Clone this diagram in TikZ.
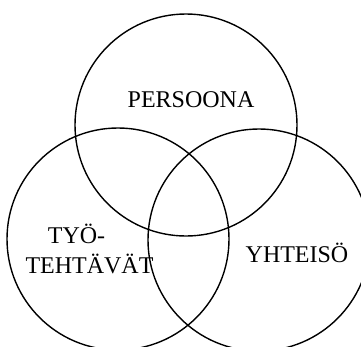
\documentclass[tikz,border=0pt]{standalone}
\usepackage{fontspec}
\setmainfont{Liberation Serif}
\usepackage{tikz}

\begin{document}
\begin{tikzpicture}[
    x=1pt, y=-1pt,
    ring/.style={circle, draw=black, line width=1.4pt, minimum size=222pt, inner sep=0pt},
    lbl/.style={anchor=base, inner sep=0pt, font=\fontsize{24}{26}\selectfont}
]
\useasboundingbox (0,0) rectangle (361,346);
\node[ring] (persoona) at (186,125) {};
\node[ring] (tyo) at (118,239) {};
\node[ring] (yhteiso) at (259,240) {};
\node[lbl] (tpersoona) at (191,107) {PERSOONA};
\node[lbl] (ttyo) at (76.5,243) {TYÖ-};
\node[lbl] (ttehtavat) at (89.5,273) {TEHTÄVÄT};
\node[lbl] (tyhteiso) at (297,262) {YHTEISÖ};
\end{tikzpicture}
\end{document}
